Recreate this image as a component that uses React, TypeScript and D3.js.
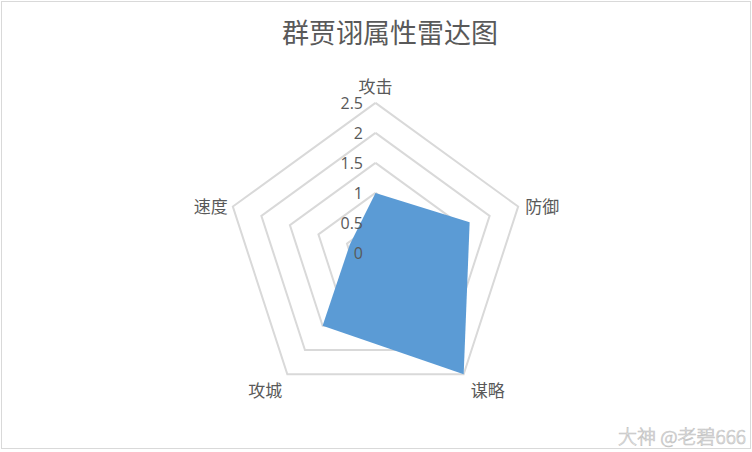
import React from 'react';
import * as d3 from 'd3';

const categories: string[] = ['攻击', '防御', '谋略', '攻城', '速度'];
const values: number[] = [1, 1.65, 2.5, 1.5, 0.45];
const ticks: number[] = [0, 0.5, 1, 1.5, 2, 2.5];
const title = '群贾诩属性雷达图';
const watermark = '大神 @老碧666';

const W = 752;
const H = 452;
const cx = 375.5;
const cy = 252.9;
const R = 150;

const textColor = '#595959';
const gridColor = '#d9d9d9';
const fillColor = '#5b9bd5';

function App() {
    const r = d3.scaleLinear().domain([0, 2.5]).range([0, R]);
    const angle = d3.scaleLinear().domain([0, categories.length]).range([0, 2 * Math.PI]);

    const pt = (i: number, v: number): [number, number] => {
        const a = angle(i);
        return [cx + r(v) * Math.sin(a), cy - r(v) * Math.cos(a)];
    };

    const ring = (v: number) => {
        const pts = categories.map((_, i) => pt(i, v));
        return d3.line()(pts.concat([pts[0]])) || '';
    };

    const area = d3.line()(values.map((v, i) => pt(i, v)).concat([pt(0, values[0])])) + 'Z';

    // label placement per axis
    const labelPos = (i: number) => {
        const [x, y] = pt(i, 2.5);
        const a = angle(i);
        const s = Math.sin(a);
        const c = Math.cos(a);
        let anchor = 'middle';
        if (s > 0.5) anchor = 'start';
        if (s < -0.5) anchor = 'end';
        const dx = s > 0.5 ? 7 : s < -0.5 ? -5 : s * 25;
        const dy = c > 0.9 ? -10 : c < -0.5 ? 23 : 6;
        return { x: x + dx, y: y + dy, anchor };
    };

    const cjk = '"Noto Sans CJK SC", "Noto Sans", sans-serif';

    return (
        <svg width={W} height={H} style={{ position: 'absolute', left: 0, top: 0, background: '#fff' }}>
            <rect x={1.5} y={1.5} width={W - 3} height={H - 5} fill="#fff" stroke={gridColor} strokeWidth={1} />
            <text x={390} y={43} textAnchor="middle" fontFamily={cjk} fontSize={27} fill={textColor}>
                {title}
            </text>
            {ticks.slice(1).map(t => (
                <path key={t} d={ring(t)} fill="none" stroke={gridColor} strokeWidth={2} />
            ))}
            <path d={area} fill={fillColor} />
            {ticks.map(t => (
                <text key={t} x={363} y={cy - r(t) + 6} textAnchor="end"
                    fontFamily='"Open Sans", "Liberation Sans", sans-serif' fontSize={16} fill={textColor}>
                    {t}
                </text>
            ))}
            {categories.map((c, i) => {
                const p = labelPos(i);
                return (
                    <text key={c} x={p.x} y={p.y} textAnchor={p.anchor}
                        fontFamily={cjk} fontSize={17} fill={textColor}>
                        {c}
                    </text>
                );
            })}
            <text x={746} y={444} textAnchor="end" fontFamily={cjk} fontSize={19} fontWeight={300}
                fill="#fff" stroke="#c4c4c4" strokeWidth={0.7}>
                {watermark}
            </text>
        </svg>
    );
}

export default App;
